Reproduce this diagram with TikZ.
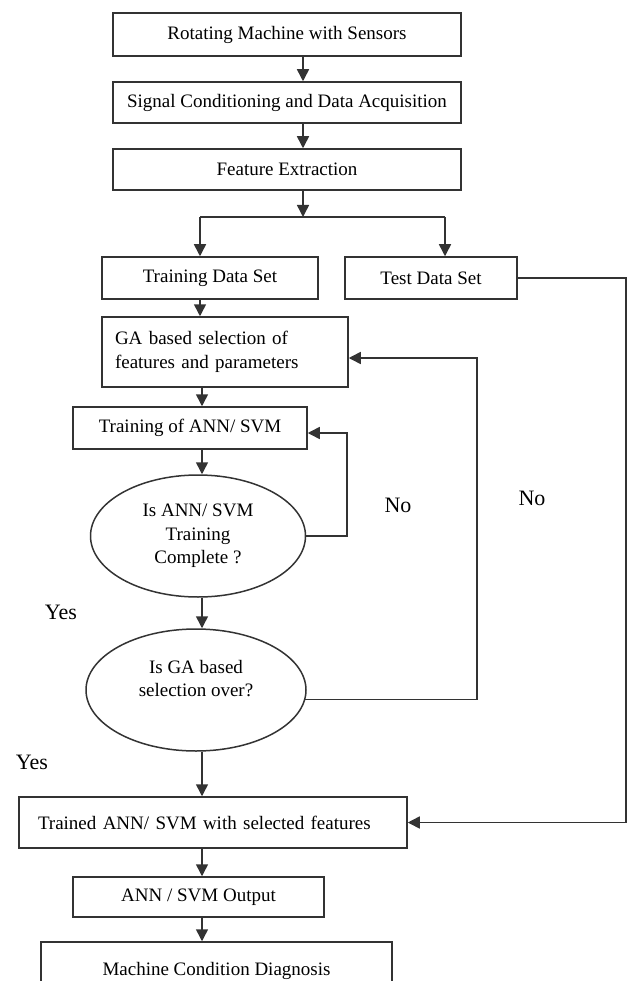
\documentclass[tikz,border=0pt]{standalone}
\usepackage{fontspec}
\setmainfont{Liberation Serif}
\usetikzlibrary{shapes.geometric,arrows.meta}
\begin{document}
\begin{tikzpicture}[x=1pt,y=-1pt,
    box/.style={draw=black!80,line width=1.5pt,rectangle,inner sep=0pt,font=\fontsize{19}{23.5}\selectfont},
    oval/.style={draw=black!80,line width=1.5pt,ellipse,inner sep=0pt,align=center,font=\fontsize{19}{23.5}\selectfont},
    wire/.style={draw=black!80,line width=1.5pt},
    flow/.style={wire,-{Triangle[length=12pt,width=12pt]}},
    lbl/.style={font=\fontsize{22}{26}\selectfont}]
    \useasboundingbox (0,0) rectangle (628,981);
    \clip (0,0) rectangle (628,981);

    \coordinate (sp) at (303,0);
    \coordinate (mc) at (202,0);
    \coordinate (lp1) at (347,0);
    \coordinate (lp2) at (477,0);
    \coordinate (rx) at (626,0);
    \coordinate (split) at (303,217);
    \coordinate (bl) at (200,217);
    \coordinate (br) at (445,217);

    \node[box,minimum width=348pt,minimum height=43pt] (rot) at (287,34.5) {Rotating Machine with Sensors};
    \node[box,minimum width=348pt,minimum height=41pt] (sig) at (287,102.5) {Signal Conditioning and Data Acquisition};
    \node[box,minimum width=348pt,minimum height=41pt] (feat) at (287,169.5) {Feature Extraction};
    \node[box,minimum width=216pt,minimum height=42pt] (trset) at (210,278) {Training Data Set};
    \node[box,minimum width=172pt,minimum height=42pt] (teset) at (431,278) {Test Data Set};
    \node[box,minimum width=246pt,minimum height=70pt,inner xsep=13pt,text width=220pt,align=left] (gasel) at (225,352) {GA based selection of\\features and parameters};
    \node[box,minimum width=234pt,minimum height=42pt] (ann) at (190,428) {Training of ANN/ SVM};
    \node[oval,minimum width=215pt,minimum height=122pt] (chk1) at (198,536) {Is ANN/ SVM\\Training\\Complete ?};
    \node[oval,minimum width=220pt,minimum height=122pt] (chk2) at (196,690) {Is GA based\\selection over?\\\mbox{}};
    \node[box,minimum width=388pt,minimum height=51pt,inner xsep=19pt,text width=350pt,align=left] (tr) at (213,822.5) {Trained ANN/ SVM with selected features};
    \node[box,minimum width=251pt,minimum height=40pt] (out) at (198.5,897) {ANN / SVM Output};
    \node[box,minimum width=351pt,minimum height=58pt] (diag) at (216.5,971) {Machine Condition Diagnosis};

    \node[lbl] (no1) at (398,505) {No};
    \node[lbl] (no2) at (532,498) {No};
    \node[lbl] (yes1) at (61,612) {Yes};
    \node[lbl] (yes2) at (32,762) {Yes};

    \coordinate (annin) at ([yshift=-5pt]ann.east);
    \coordinate (gain) at ([yshift=-6pt]gasel.east);

    \draw[flow] (rot.south -| sp) -- (sig.north -| sp);
    \draw[flow] (sig.south -| sp) -- (feat.north -| sp);
    \draw[flow] (feat.south -| sp) -- (split);
    \draw[wire] (bl) -- (br);
    \draw[flow] (bl) -- (bl |- trset.north);
    \draw[flow] (br) -- (br |- teset.north);
    \draw[flow] (trset.south -| bl) -- (gasel.north -| bl);
    \draw[flow] (gasel.south -| mc) -- (ann.north -| mc);
    \draw[flow] (ann.south -| mc) -- (chk1.north -| mc);
    \draw[flow] (chk1.east) -- (chk1.east -| lp1) -- (lp1 |- annin) -- (annin);
    \draw[flow] (chk1.south -| mc) -- (chk2.north -| mc);
    \draw[flow] (chk2.-5) -- (chk2.-5 -| lp2) -- (lp2 |- gain) -- (gain);
    \draw[flow] (teset.east) -- (teset.east -| rx) -- (rx |- tr.east) -- (tr.east);
    \draw[flow] (chk2.south -| mc) -- (tr.north -| mc);
    \draw[flow] (tr.south -| mc) -- (out.north -| mc);
    \draw[flow] (out.south -| mc) -- (diag.north -| mc);
\end{tikzpicture}
\end{document}
